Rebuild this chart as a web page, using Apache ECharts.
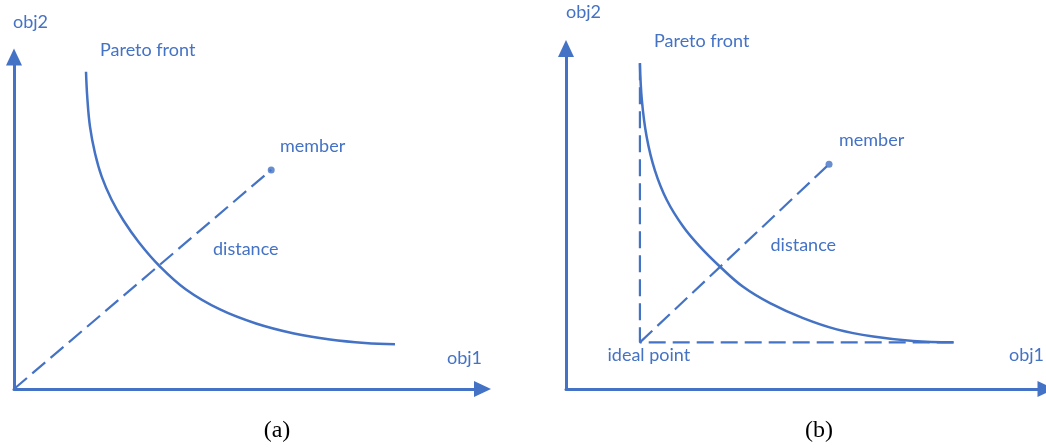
<!DOCTYPE html>
<html><head><meta charset="utf-8">
<script src="https://cdn.jsdelivr.net/npm/echarts@6/dist/echarts.min.js"></script>
<style>html,body{margin:0;padding:0;background:#fff}#c{width:1046px;height:448px}</style>
</head><body><div id="c"></div>
<script>
// ---- data (abstract objective units, 0..100 on each axis) ----
const axisNames = ['obj1', 'obj2'];
const panelCaptions = ['(a)', '(b)'];
const frontLabel = 'Pareto front';
const memberLabel = 'member';
const distanceLabel = 'distance';
const idealLabel = 'ideal point';

const frontA = [[15.37,95.57],[15.65,87.65],[16.22,79.01],[17.29,71.0],[18.72,63.95],[20.81,57.08],[23.37,50.75],[26.68,44.13],[30.95,37.2],[36.71,29.97],[43.97,23.95],[51.65,19.73],[59.77,16.72],[67.45,14.91],[74.92,13.86],[81.32,13.46]];
const originA = [0, 0];
const memberA = [54.9, 66.0];

const frontB = [[15.4,95.7],[15.8,84.9],[16.8,74.1],[18.5,64.3],[21.0,55.5],[24.4,47.7],[27.9,41.8],[32.1,35.9],[36.9,30.0],[42.5,25.2],[49.4,20.8],[56.4,17.5],[64.0,15.4],[72.3,14.1],[80.7,13.7]];
const idealB = [15.4, 13.7];
const memberB = [54.8, 66.0];
const idealVerticalTopB = 95.7;
const idealHorizontalEndB = 81.0;

// ---- style ----
const BLUE = '#4472C4';
const SANS = 'Lato';
const FS = 18;
const dash = [17, 7];

function axis(gridIndex) {
  return {
    type: 'value', gridIndex, min: 0, max: 100,
    axisLine: { show: true, onZero: false, symbol: ['none', 'triangle'], symbolSize: [16, 17],
      lineStyle: { color: BLUE, width: 3 } },
    axisTick: { show: false }, axisLabel: { show: false }, splitLine: { show: false }
  };
}
function lineSeries(idx, data, dashed) {
  return { type: 'line', xAxisIndex: idx, yAxisIndex: idx, data, symbol: 'none', clip: false,
    smooth: dashed ? false : 0.4, silent: true,
    lineStyle: { color: BLUE, width: dashed ? 2.2 : 2.5, type: dashed ? dash : 'solid' } };
}
function label(text, x, baseline, opts) {
  opts = opts || {};
  const size = opts.size || FS;
  const k = opts.k || 0.38;
  return { type: 'text', x, y: baseline - k * size, silent: true,
    style: { text, fill: opts.color || BLUE, font: (size) + 'px ' + (opts.family || SANS),
      align: opts.align || 'left', verticalAlign: 'middle' } };
}

const chart = echarts.init(document.getElementById('c'), null, { renderer: 'canvas' });
chart.setOption({
  animation: false,
  backgroundColor: '#fff',
  grid: [
    { left: 14, top: 57, width: 468.5, height: 332 },
    { left: 566, top: 48.5, width: 480.2, height: 340.5 }
  ],
  xAxis: [axis(0), axis(1)],
  yAxis: [axis(0), axis(1)],
  series: [
    lineSeries(0, frontA, false),
    lineSeries(0, [originA, memberA], true),
    { type: 'scatter', xAxisIndex: 0, yAxisIndex: 0, data: [memberA], symbolSize: 7, itemStyle: { color: BLUE }, silent: true },
    lineSeries(1, frontB, false),
    lineSeries(1, [idealB, memberB], true),
    lineSeries(1, [[idealB[0], idealVerticalTopB], idealB, [idealHorizontalEndB, idealB[1]]], true),
    { type: 'scatter', xAxisIndex: 1, yAxisIndex: 1, data: [memberB], symbolSize: 7, itemStyle: { color: BLUE }, silent: true }
  ],
  graphic: [
    label(axisNames[1], 13, 29.5),
    label(frontLabel, 100, 57),
    label(memberLabel, 280, 153),
    label(distanceLabel, 213, 256),
    label(axisNames[0], 447, 365),
    label(panelCaptions[0], 277, 438.5, { size: 24, family: '"Liberation Serif", serif', color: '#000', align: 'center', k: 0.34 }),
    label(axisNames[1], 566, 19.5),
    label(frontLabel, 654, 47.7),
    label(memberLabel, 839, 147),
    label(distanceLabel, 770.5, 252),
    label(idealLabel, 607.5, 362.5),
    label(axisNames[0], 1009, 362.3),
    label(panelCaptions[1], 819, 438.5, { size: 24, family: '"Liberation Serif", serif', color: '#000', align: 'center', k: 0.34 })
  ]
});
</script></body></html>
